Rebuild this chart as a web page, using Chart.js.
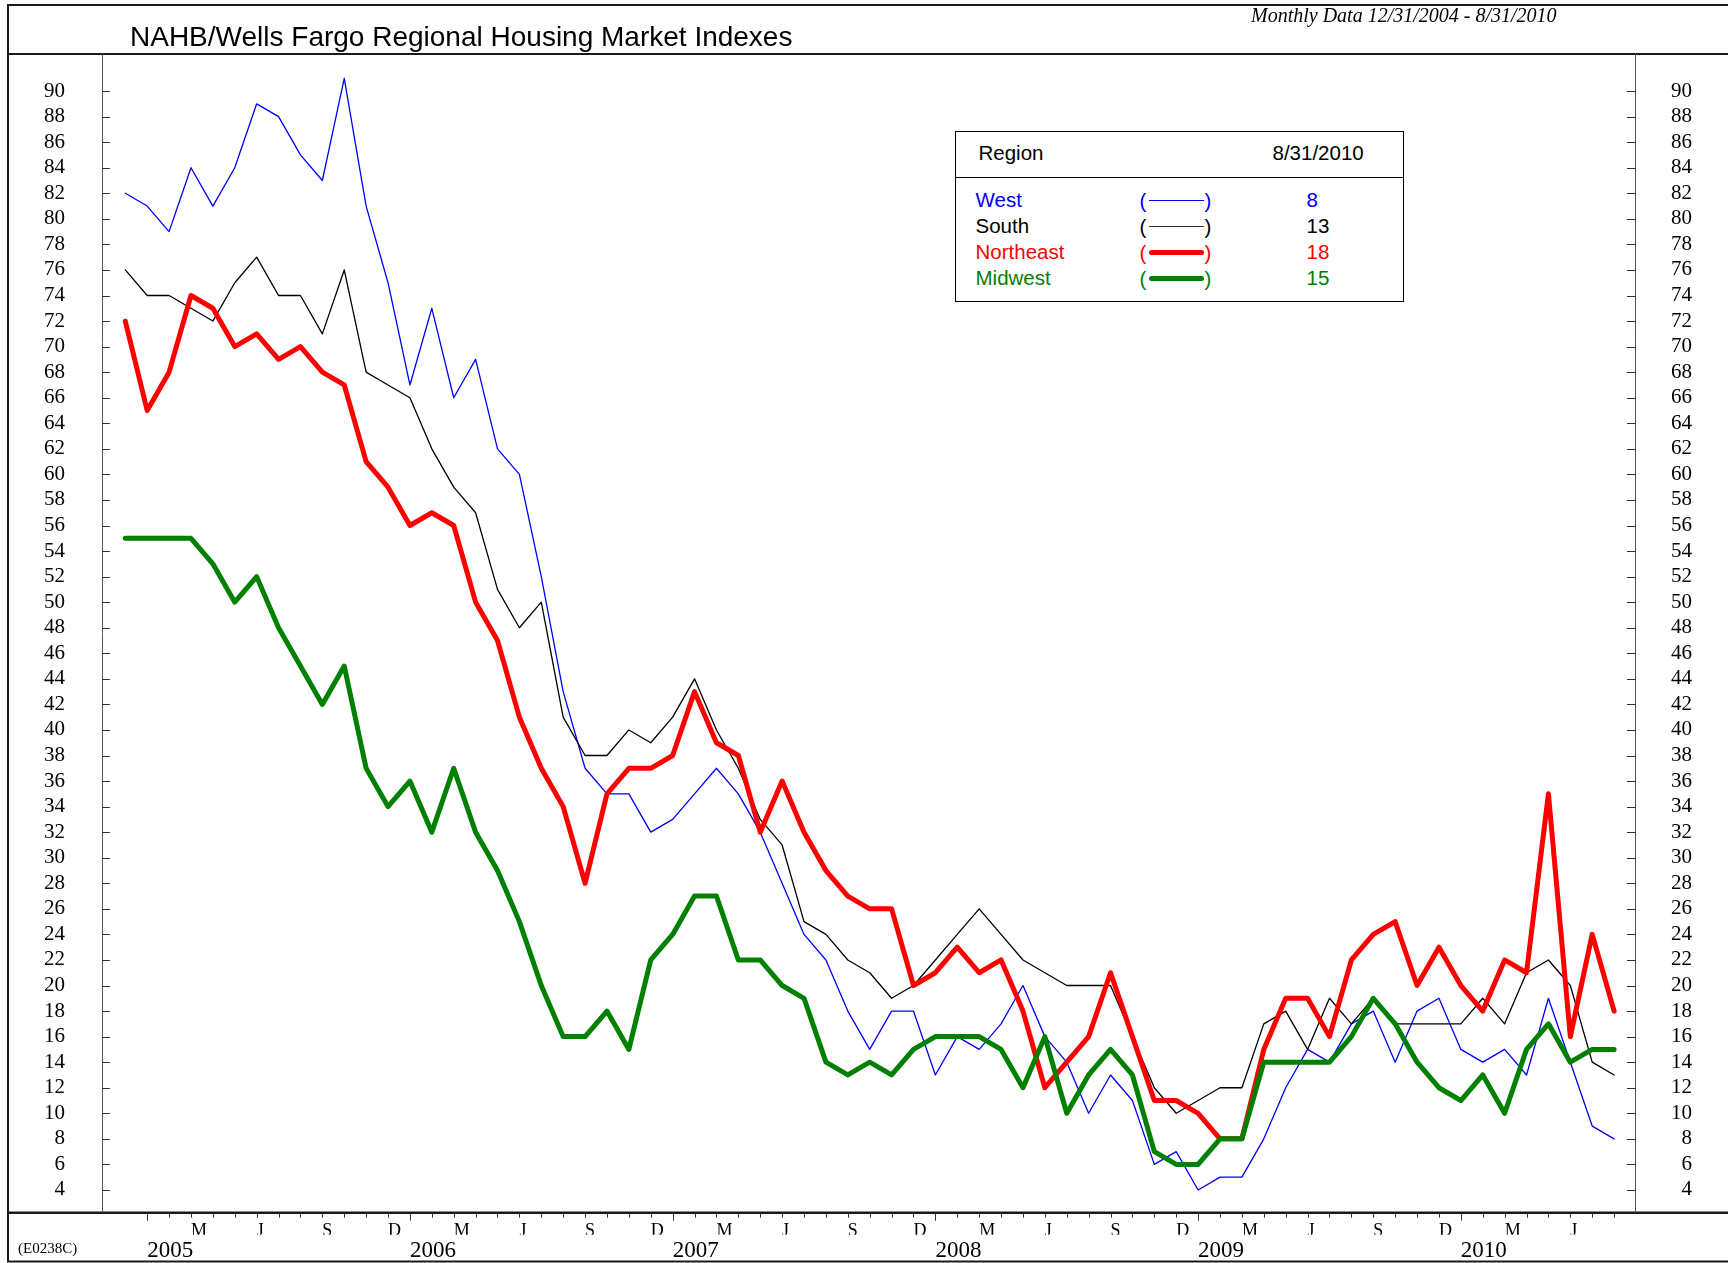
<!DOCTYPE html>
<html>
<head>
<meta charset="utf-8">
<title>NAHB/Wells Fargo Regional Housing Market Indexes</title>
<script src="https://cdn.jsdelivr.net/npm/chart.js@4.4.1/dist/chart.umd.min.js"></script>
<style>
  html, body { margin: 0; padding: 0; background: #fff; }
  #wrap { position: relative; width: 1728px; height: 1263px; overflow: hidden; background: #fff; }
  #wrap canvas { position: absolute; left: 0; top: 0; }
  .txt { position: absolute; white-space: nowrap; }
  #title { left: 130px; top: 23px; font: 28px/28px "Liberation Sans", Arial, sans-serif; color: #000; }
  #subtitle { left: 1251px; top: 5px; font: italic 20px/20px "Liberation Serif", "Times New Roman", serif; color: #000; }
  #code { left: 18px; top: 1241px; font: 15px/15px "Liberation Serif", "Times New Roman", serif; color: #000; }
  #legend { position: absolute; left: 955px; top: 131px; width: 449px; height: 171px; box-sizing: border-box;
            border: 1.5px solid #000; background: #fff; }
  #legend .hdr { position: absolute; left: 0; top: 45px; width: 100%; border-top: 1.5px solid #000; }
  .lg { position: absolute; white-space: nowrap; font: 20.5px/20.5px "Liberation Sans", Arial, sans-serif; }
  .lgline { position: absolute; }
</style>
</head>
<body>
<div id="wrap">
  <canvas id="chart" width="1728" height="1263"></canvas>
  <div id="title" class="txt">NAHB/Wells Fargo Regional Housing Market Indexes</div>
  <div id="subtitle" class="txt">Monthly Data 12/31/2004 - 8/31/2010</div>
  <div id="code" class="txt">(E0238C)</div>
  <div id="legend"><div class="hdr"></div></div>
</div>
<script>
// Monthly observations, 12/31/2004 - 8/31/2010
const months = [
  "Dec 04",
  "Jan 05", "Feb 05", "Mar 05", "Apr 05", "May 05", "Jun 05", "Jul 05", "Aug 05", "Sep 05", "Oct 05", "Nov 05", "Dec 05",
  "Jan 06", "Feb 06", "Mar 06", "Apr 06", "May 06", "Jun 06", "Jul 06", "Aug 06", "Sep 06", "Oct 06", "Nov 06", "Dec 06",
  "Jan 07", "Feb 07", "Mar 07", "Apr 07", "May 07", "Jun 07", "Jul 07", "Aug 07", "Sep 07", "Oct 07", "Nov 07", "Dec 07",
  "Jan 08", "Feb 08", "Mar 08", "Apr 08", "May 08", "Jun 08", "Jul 08", "Aug 08", "Sep 08", "Oct 08", "Nov 08", "Dec 08",
  "Jan 09", "Feb 09", "Mar 09", "Apr 09", "May 09", "Jun 09", "Jul 09", "Aug 09", "Sep 09", "Oct 09", "Nov 09", "Dec 09",
  "Jan 10", "Feb 10", "Mar 10", "Apr 10", "May 10", "Jun 10", "Jul 10", "Aug 10"
];

const west = [82, 81, 79, 84, 81, 84, 89, 88, 85, 83, 91, 81, 75, 67, 73, 66, 69, 62, 60, 52,
  43, 37, 35, 35, 32, 33, 35, 37, 35, 32, 28, 24, 22, 18, 15, 18, 18, 13, 16, 15,
  17, 20, 16, 14, 10, 13, 11, 6, 7, 4, 5, 5, 8, 12, 15, 14, 17, 18, 14, 18,
  19, 15, 14, 15, 13, 19, 14, 9, 8];

const south = [76, 74, 74, 73, 72, 75, 77, 74, 74, 71, 76, 68, 67, 66, 62, 59, 57, 51, 48, 50,
  41, 38, 38, 40, 39, 41, 44, 40, 37, 33, 31, 25, 24, 22, 21, 19, 20, 22, 24, 26,
  24, 22, 21, 20, 20, 20, 16, 12, 10, 11, 12, 12, 17, 18, 15, 19, 17, 19, 17, 17,
  17, 17, 19, 17, 21, 22, 20, 14, 13];

const northeast = [72, 65, 68, 74, 73, 70, 71, 69, 70, 68, 67, 61, 59, 56, 57, 56, 50, 47, 41, 37,
  34, 28, 35, 37, 37, 38, 43, 39, 38, 32, 36, 32, 29, 27, 26, 26, 20, 21, 23, 21,
  22, 18, 12, 14, 16, 21, 16, 11, 11, 10, 8, 8, 15, 19, 19, 16, 22, 24, 25, 20,
  23, 20, 18, 22, 21, 35, 16, 24, 18];

const midwest = [55, 55, 55, 55, 53, 50, 52, 48, 45, 42, 45, 37, 34, 36, 32, 37, 32, 29, 25, 20,
  16, 16, 18, 15, 22, 24, 27, 27, 22, 22, 20, 19, 14, 13, 14, 13, 15, 16, 16, 16,
  15, 12, 16, 10, 13, 15, 13, 7, 6, 6, 8, 8, 14, 14, 14, 14, 16, 19, 17, 14,
  12, 11, 13, 10, 15, 17, 14, 15, 15];

const regions = ["West", "South", "Northeast", "Midwest"];
const regionColors = ["#0000ff", "#000000", "#ff0000", "#008000"];
const regionWidths = [1.3, 1.3, 5, 5];

// tick labels
const yTicks = [4, 6, 8, 10, 12, 14, 16, 18, 20, 22, 24, 26, 28, 30, 32, 34, 36, 38, 40, 42, 44,
  46, 48, 50, 52, 54, 56, 58, 60, 62, 64, 66, 68, 70, 72, 74, 76, 78, 80, 82, 84, 86, 88, 90];
const quarterLetters = { Mar: "M", Jun: "J", Sep: "S", Dec: "D" };

// axis ranges (the plot runs a month past each end of the data)
const X_MIN = -1.064, X_MAX = 69;
const Y_MIN = 2.22, Y_MAX = 92.9;

const quarterIdx = months.map((m, i) => i).filter(i => i > 0 && quarterLetters[months[i].slice(0, 3)]);
const yearIdx = months.map((m, i) => i).filter(i => months[i].startsWith("Jan"));

function series(name, values, color, width, order) {
    return {
        label: name,
        data: values.map((v, i) => ({ x: i, y: v })),
        borderColor: color,
        borderWidth: width,
        pointRadius: 0,
        fill: false,
        tension: 0,
        borderJoinStyle: "round",
        borderCapStyle: "round",
        order: order,
    };
}

function hline(ctx, x1, x2, y, w) {
    ctx.lineWidth = w;
    ctx.beginPath();
    ctx.moveTo(x1, y);
    ctx.lineTo(x2, y);
    ctx.stroke();
}

function vline(ctx, x, y1, y2, w) {
    ctx.lineWidth = w;
    ctx.beginPath();
    ctx.moveTo(x, y1);
    ctx.lineTo(x, y2);
    ctx.stroke();
}

// Frame, axis lines and tick marks
const framePlugin = {
    id: "frame",
    beforeDraw(chart) {
        const ctx = chart.ctx;
        ctx.save();
        ctx.fillStyle = "#fff";
        ctx.fillRect(0, 0, chart.width, chart.height);
        ctx.restore();
    },
    afterDraw(chart) {
        const ctx = chart.ctx;
        const a = chart.chartArea;
        const xs = chart.scales.x;
        const ys = chart.scales.y;
        ctx.save();

        // page frame
        ctx.strokeStyle = "#1a1a1a";
        hline(ctx, 7, chart.width, 5, 2);
        vline(ctx, 8, 4, 1262, 2);
        hline(ctx, 7, chart.width, a.top, 2);
        hline(ctx, 7, chart.width, a.bottom, 2.5);
        hline(ctx, 7, chart.width, 1261.5, 2);

        // plot sides
        ctx.strokeStyle = "#555";
        vline(ctx, a.left + 0.5, a.top, a.bottom, 1);
        vline(ctx, a.right - 0.5, a.top, a.bottom, 1);

        // y ticks (inside, both sides)
        ctx.strokeStyle = "#333";
        yTicks.forEach((v) => {
            const py = Math.round(ys.getPixelForValue(v)) + 0.5;
            hline(ctx, a.left, a.left + 8, py, 1);
            hline(ctx, a.right - 9, a.right, py, 1);
        });

        // month ticks below the plot, longer at January
        for (let i = 1; i < months.length; i++) {
            const px = Math.round(xs.getPixelForValue(i)) + 0.5;
            const len = months[i].startsWith("Jan") ? 8 : 5;
            vline(ctx, px, a.bottom, a.bottom + len, 1);
        }
        ctx.restore();
    },
};

function yAxis(position, width, padding, crossAlign) {
    return {
        type: "linear",
        position: position,
        min: Y_MIN,
        max: Y_MAX,
        grid: { display: false, drawTicks: false },
        border: { display: false },
        afterBuildTicks: (axis) => { axis.ticks = yTicks.map(v => ({ value: v })); },
        afterFit: (axis) => { axis.width = width; },
        ticks: {
            autoSkip: false,
            padding: padding,
            crossAlign: crossAlign,
            color: "#000",
            font: { family: "Liberation Serif", size: 21 },
        },
    };
}

const ctx = document.getElementById("chart").getContext("2d");

new Chart(ctx, {
    type: "line",
    data: {
        datasets: [
            series(regions[0], west, regionColors[0], regionWidths[0], 3),
            series(regions[1], south, regionColors[1], regionWidths[1], 2),
            series(regions[2], northeast, regionColors[2], regionWidths[2], 1),
            series(regions[3], midwest, regionColors[3], regionWidths[3], 0),
        ],
    },
    options: {
        responsive: false,
        animation: false,
        events: [],
        layout: { padding: { left: 8, right: 36, top: 54, bottom: 0 } },
        plugins: {
            legend: { display: false },
            tooltip: { enabled: false },
            title: { display: false },
        },
        scales: {
            x: {
                type: "linear",
                position: "bottom",
                weight: 0,
                min: X_MIN,
                max: X_MAX,
                grid: { display: false, drawTicks: false },
                border: { display: false },
                afterBuildTicks: (axis) => { axis.ticks = quarterIdx.map(v => ({ value: v })); },
                afterFit: (axis) => { axis.height = 22; },
                ticks: {
                    autoSkip: false,
                    maxRotation: 0,
                    align: "start",
                    padding: 8,
                    color: "#000",
                    font: { family: "Liberation Serif", size: 18 },
                    callback: (v) => quarterLetters[months[v].slice(0, 3)],
                },
            },
            x2: {
                type: "linear",
                position: "bottom",
                weight: 1,
                min: X_MIN,
                max: X_MAX,
                grid: { display: false, drawTicks: false },
                border: { display: false },
                afterBuildTicks: (axis) => { axis.ticks = yearIdx.map(v => ({ value: v })); },
                afterFit: (axis) => { axis.height = 28.3; },
                ticks: {
                    autoSkip: false,
                    maxRotation: 0,
                    align: "start",
                    padding: 2,
                    color: "#000",
                    font: { family: "Liberation Serif", size: 23 },
                    callback: (v) => "20" + months[v].slice(4),
                },
            },
            y: yAxis("left", 94, 37, "near"),
            y2: yAxis("right", 56, 0, "far"),
        },
    },
    plugins: [framePlugin],
});

// Legend box (latest reading = last value of each series)
function buildLegend() {
    const box = document.getElementById("legend");
    const latest = [west, south, northeast, midwest].map(s => s[s.length - 1]);
    const boxLeft = 955, boxTop = 131;

    function addText(text, x, yc, color) {
        const el = document.createElement("div");
        el.className = "lg";
        el.textContent = text;
        el.style.left = (x - boxLeft - 1.5) + "px";
        el.style.top = (yc - 10 - boxTop - 1.5) + "px";
        el.style.color = color;
        box.appendChild(el);
    }

    addText("Region", 979, 153, "#000");
    addText("8/31/2010", 1273, 153, "#000");

    regions.forEach((name, k) => {
        const yc = 200 + k * 26;
        const color = regionColors[k];
        addText(name, 976, yc, color);
        addText("(", 1140, yc + 1, color);
        addText(")", 1205, yc + 1, color);
        addText(String(latest[k]), 1307, yc, color);

        const ln = document.createElement("div");
        ln.className = "lgline";
        const w = regionWidths[k] > 2 ? 5 : 1.5;
        ln.style.left = (1149 - boxLeft - 1.5) + "px";
        ln.style.width = "55px";
        ln.style.height = w + "px";
        ln.style.top = (yc + 1 - w / 2 - boxTop - 1.5) + "px";
        ln.style.background = k === 1 ? "#333" : color;
        ln.style.borderRadius = w > 2 ? "3px" : "0";
        box.appendChild(ln);
    });
}

buildLegend();
</script>
</body>
</html>
